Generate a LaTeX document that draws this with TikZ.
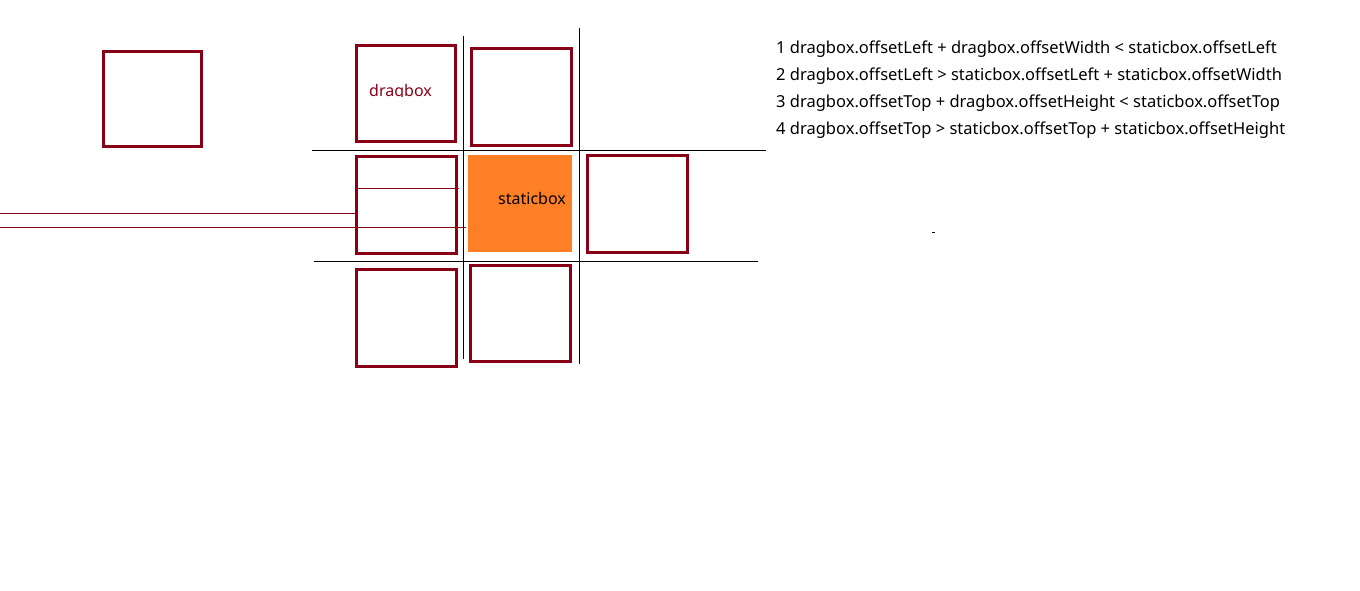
\documentclass[tikz,border=0pt]{standalone}
\usepackage{fontspec}
\setmainfont{Noto Sans}
\definecolor{dred}{RGB}{136,0,21}
\definecolor{dorange}{RGB}{255,127,39}
\begin{document}
\begin{tikzpicture}[x=1pt,y=-1pt,
  dbox/.style={draw=dred,line width=3pt,inner sep=0pt,minimum width=#1},
  thinblack/.style={draw=black,line width=1pt},
  thinred/.style={draw=dred,line width=1pt},
  lbl/.style={inner sep=0pt,font=\fontsize{16}{19}\selectfont},
  cond/.style={inner sep=0pt,anchor=base west,font=\fontsize{16.5}{20}\selectfont},
]
\useasboundingbox[fill=white] (0,0) rectangle (1360,591);
% boxes
\node[dbox=98,minimum height=95] (tl) at (152.5,99) {};
\node[dbox=99,minimum height=96] (drag) at (406,93.5) {};
\node[dbox=100,minimum height=97] (topmid) at (521.5,97) {};
\node[dbox=100,minimum height=97] (midleft) at (406.5,205) {};
\node[fill=dorange,inner sep=0pt,minimum width=104,minimum height=97] (static) at (520,203.5) {};
\node[dbox=100,minimum height=97] (right) at (637.5,204) {};
\node[dbox=100,minimum height=97] (botleft) at (406.5,318) {};
\node[dbox=100,minimum height=96] (botmid) at (520.5,313.5) {};
% grid lines
\draw[thinblack] (463.5,36) -- (463.5,359);
\draw[thinblack] (579.5,28) -- (579.5,364);
\draw[thinblack] (312,150.5) -- (766,150.5);
\draw[thinblack] (314,261.5) -- (758,261.5);
% red thin lines
\draw[thinred] (357,188.5) -- (459,188.5);
\draw[thinred] (0,213.5) -- (355,213.5);
\draw[thinred] (0,227.5) -- (466,227.5);
\draw[line width=1pt] (932,232.5) -- (935,232.5);
% labels
\begin{scope}
\clip (360,70) rectangle (450,97);
\node[lbl,text=dred,anchor=base west] (dlabel) at (369,97) {dragbox};
\end{scope}
\node[lbl,anchor=base west] (slabel) at (498,204) {staticbox};
\node[cond] (c1) at (776,54) {1 dragbox.offsetLeft + dragbox.offsetWidth < staticbox.offsetLeft};
\node[cond] (c2) at (776,81) {2 dragbox.offsetLeft > staticbox.offsetLeft + staticbox.offsetWidth};
\node[cond] (c3) at (776,108) {3 dragbox.offsetTop + dragbox.offsetHeight < staticbox.offsetTop};
\node[cond] (c4) at (776,135) {4 dragbox.offsetTop > staticbox.offsetTop + staticbox.offsetHeight};
\end{tikzpicture}
\end{document}
